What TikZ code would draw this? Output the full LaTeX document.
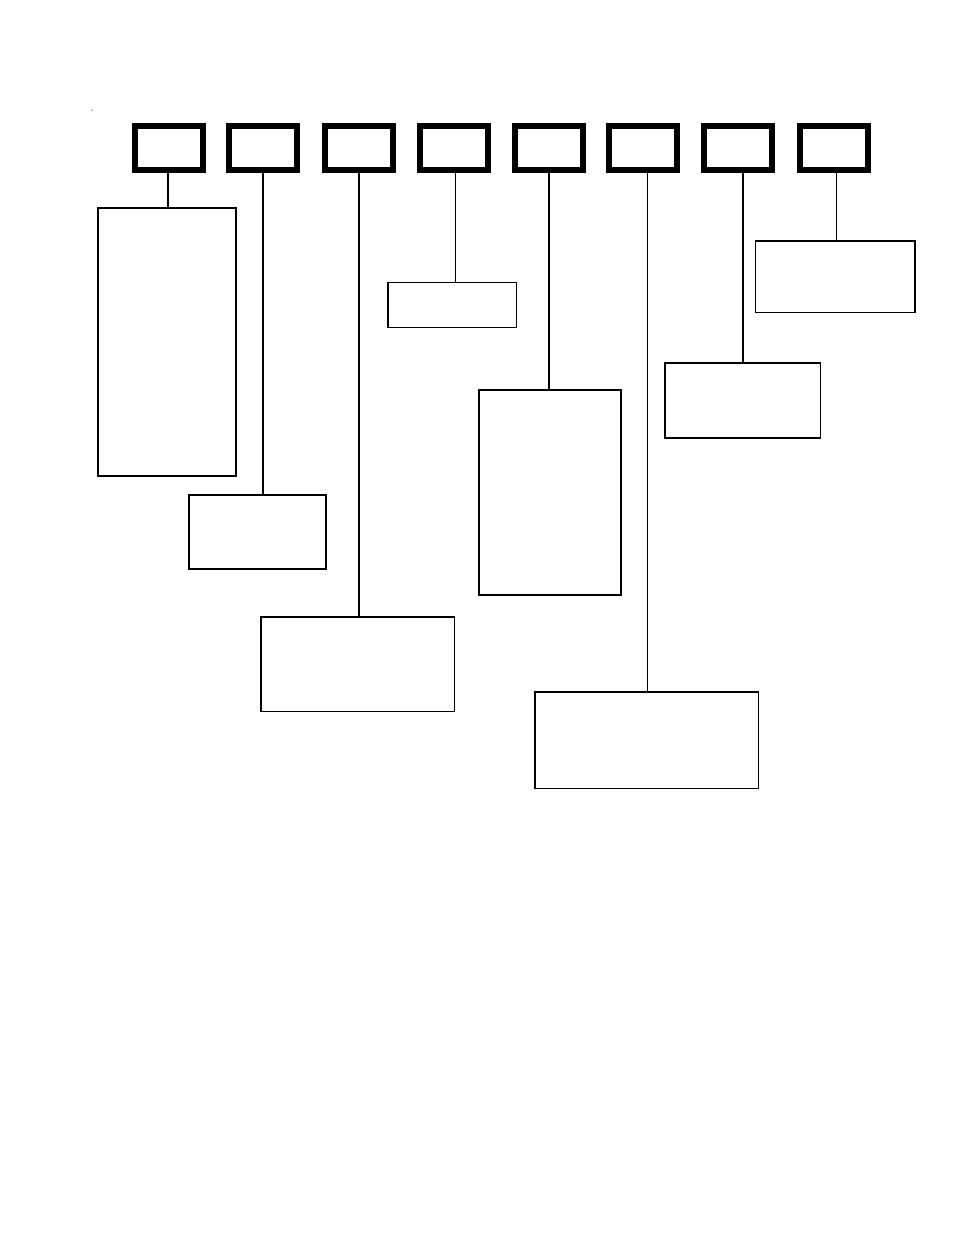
\documentclass[tikz,border=0pt]{standalone}
\usepackage{tikz}
\usepackage{amsmath,amssymb}
\usepackage{xcolor}
\tikzset{
  topbox/.style={draw, line width=6pt, minimum width=68pt, minimum height=44pt, inner sep=0pt, outer sep=0pt},
  itembox/.style={draw, line width=1.8pt, inner sep=0pt, outer sep=0pt}
}
\begin{document}
\begin{tikzpicture}[x=1pt,y=-1pt]
\fill[white] (0,0) rectangle (954,1235);
\useasboundingbox (0,0) rectangle (954,1235);

\fill (92,110) circle (0.6);

% Adding the top row
\foreach \i/\x in {1/169,2/263,3/358.5,4/453.5,5/548.5,6/643,7/738,8/833.5}
    \node[topbox] (t\i) at (\x,147.7) {};

% Adding all the item boxes
\node[itembox, minimum width=137.4pt, minimum height=268pt] (b1) at (167,341.7) {};
\node[itembox, minimum width=137pt, minimum height=74pt] (b2) at (257.8,532.3) {};
\node[itembox, line width=1.6pt, minimum width=193.3pt, minimum height=94.6pt] (b3) at (357.7,664) {};
\node[itembox, line width=1.2pt, minimum width=128.5pt, minimum height=45pt] (b4) at (452.3,305) {};
\node[itembox, minimum width=142pt, minimum height=205pt] (b5) at (550,492.2) {};
\node[itembox, line width=1.6pt, minimum width=223.3pt, minimum height=96.6pt] (b6) at (646.7,740) {};
\node[itembox, line width=1.6pt, minimum width=155.3pt, minimum height=75pt] (b7) at (742.7,400.2) {};
\node[itembox, line width=1.6pt, minimum width=159.4pt, minimum height=71.3pt] (b8) at (835,276.7) {};

% Connecting them
\foreach \i/\dx/\w in {1/-0.7pt/2.2pt,2/-0.3pt/2.4pt,3/0.5pt/2.4pt,4/1.8pt/1.1pt,5/0.2pt/2.4pt,6/4.3pt/1.3pt,7/4.7pt/2.4pt,8/3.2pt/1.3pt}{
    \path ([xshift=\dx]t\i.south) coordinate (c\i);
    \draw[line width=\w] (c\i) -- (c\i |- b\i.north);
}

\end{tikzpicture}
\end{document}
